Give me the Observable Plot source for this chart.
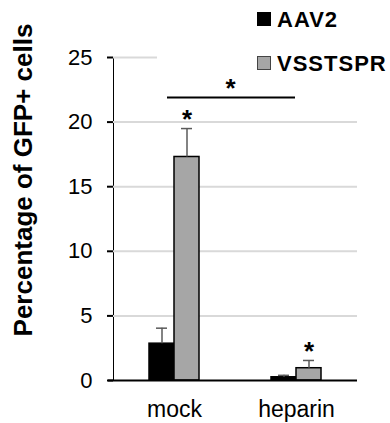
<!DOCTYPE html>
<html>
<head>
<meta charset="utf-8">
<script src="https://cdn.jsdelivr.net/npm/d3@7"></script>
<script src="https://cdn.jsdelivr.net/npm/@observablehq/plot@0.6"></script>
<style>
  html, body { margin: 0; padding: 0; background: #fff; }
  #wrap { position: relative; width: 390px; height: 423px; font-family: "Liberation Sans", Arial, sans-serif; }
  #wrap svg { position: absolute; left: 0; top: 0; }
  #wrap svg [aria-label^="x-axis"] text { font-size: 23px; }
  #wrap svg [aria-label^="y-axis"] text { font-size: 22px; }
  #wrap svg [aria-label^="y-axis"] path, #wrap svg [aria-label^="y-axis"] line { stroke-width: 2px; }
  #ytitle { position: absolute; left: 23px; top: 180px; transform: translate(-50%, -50%) rotate(-90deg);
            white-space: nowrap; font-size: 26px; font-weight: bold; line-height: 1; color: #000; }
  #legend { position: absolute; left: 157px; top: 0; width: 233px; height: 76px; background: #fff; }
  .lg { position: absolute; left: 100px; font-size: 22px; font-weight: bold; letter-spacing: 1px; line-height: 1; white-space: nowrap; }
  .sw { position: absolute; left: 100px; width: 14px; height: 14px; box-sizing: border-box; }
</style>
</head>
<body>
<div id="wrap"></div>
<script>
// ---- data ----
const groups = ["mock", "heparin"];
const series = ["AAV2", "VSSTSPR"];
const aav2 = [2.85, 0.25];
const aav2Err = [1.2, 0.15];
const vssts = [17.3, 0.95];
const vsstsErr = [2.2, 0.6];
const yTicks = [0, 5, 10, 15, 20, 25];
const colors = ["#000000", "#a6a6a6"];
const significant = [["mock", "VSSTSPR"], ["heparin", "VSSTSPR"]];
const bracket = [{from: "mock", to: "heparin", y: 21.9}];
const yTitle = "Percentage of GFP+ cells";

// ---- table ----
const table = groups.flatMap((g, i) => [
  {group: g, series: "AAV2", value: aav2[i], err: aav2Err[i]},
  {group: g, series: "VSSTSPR", value: vssts[i], err: vsstsErr[i]}
]);
const stars = table.filter(d => significant.some(([g, s]) => g === d.group && s === d.series));

const width = 390, height = 423;
const marginLeft = 113, marginRight = 33, marginTop = 57, marginBottom = 43;
const band = (width - marginLeft - marginRight) / groups.length;
const barW = 25, capW = 11;
const off = {AAV2: -barW / 2, VSSTSPR: barW / 2};

const seriesMarks = series.flatMap(s => {
  const rows = table.filter(d => d.series === s);
  const dx = off[s];
  return [
    Plot.barY(rows, {x: "group", y: "value", fill: "series", stroke: "black", strokeWidth: 1.5,
      insetLeft: band / 2 - barW / 2 + dx, insetRight: band / 2 - barW / 2 - dx}),
    Plot.ruleX(rows, {x: "group", y1: "value", y2: d => d.value + d.err, dx, stroke: "#5a5a5a", strokeWidth: 1.5}),
    Plot.tickY(rows, {x: "group", y: d => d.value + d.err, dx, stroke: "#5a5a5a", strokeWidth: 1.5,
      insetLeft: (band - capW) / 2, insetRight: (band - capW) / 2})
  ];
});

const chart = Plot.plot({
  width, height, marginLeft, marginRight, marginTop, marginBottom,
  style: {fontFamily: "Liberation Sans, Arial, sans-serif", fontSize: "22px", color: "black", background: "white"},
  x: {domain: groups, padding: 0, tickSize: 0, tickPadding: 20, label: null},
  y: {domain: [0, 25], ticks: yTicks, tickSize: 6, tickPadding: 15, line: true, label: null},
  color: {domain: series, range: colors},
  marks: [
    Plot.ruleY(yTicks.filter(t => t > 0), {stroke: "#d9d9d9", strokeWidth: 2}),
    ...seriesMarks,
    Plot.ruleY([0], {stroke: "black", strokeWidth: 2, insetLeft: -5}),
    Plot.ruleY(bracket, {x1: "from", x2: "to", y: "y", stroke: "black", strokeWidth: 2, insetLeft: 54, insetRight: 62}),
    Plot.text(bracket, {y: "y", text: () => "*", dx: -5, dy: -9, fontSize: 26, fontWeight: "bold"}),
    ...series.map(s => Plot.text(stars.filter(d => d.series === s), {x: "group", y: d => d.value + d.err, text: () => "*", dx: off[s], dy: -9, fontSize: 26, fontWeight: "bold"}))
  ]
});

const wrap = document.getElementById("wrap");
wrap.appendChild(chart);

const yt = document.createElement("div");
yt.id = "ytitle";
yt.textContent = yTitle;
wrap.appendChild(yt);

const legend = document.createElement("div");
legend.id = "legend";
series.forEach((s, i) => {
  const top = [12, 56][i];
  const sw = document.createElement("div");
  sw.className = "sw";
  sw.style.top = top + "px";
  sw.style.background = colors[i];
  sw.style.border = "1.5px solid " + (i === 0 ? "#000" : "#444");
  legend.appendChild(sw);
  const t = document.createElement("div");
  t.className = "lg";
  t.style.left = "120px";
  t.style.top = (top - 3) + "px";
  t.textContent = s;
  legend.appendChild(t);
});
wrap.appendChild(legend);
</script>
</body>
</html>
